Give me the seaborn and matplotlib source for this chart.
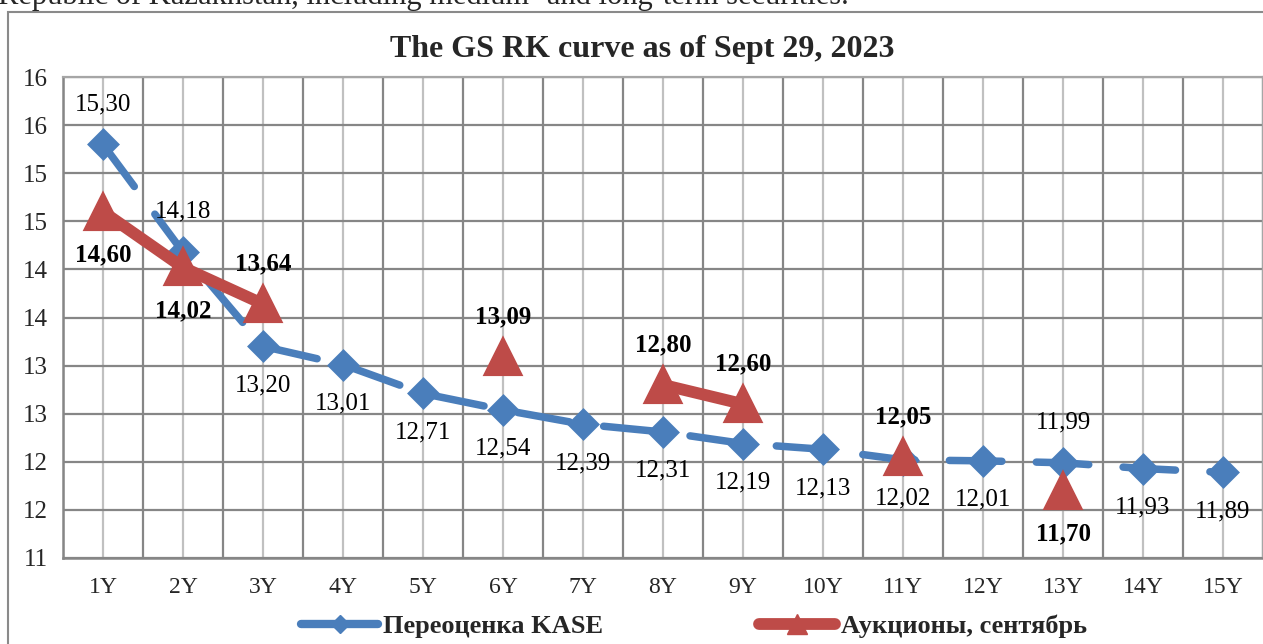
import numpy as np
import pandas as pd
import matplotlib
matplotlib.use("Agg")
import matplotlib.pyplot as plt
import seaborn as sns
from matplotlib.lines import Line2D
from matplotlib.patches import Rectangle

# ---------------- data ----------------
categories = ["1Y", "2Y", "3Y", "4Y", "5Y", "6Y", "7Y", "8Y", "9Y", "10Y",
              "11Y", "12Y", "13Y", "14Y", "15Y"]
kase_values = [15.30, 14.18, 13.20, 13.01, 12.71, 12.54, 12.39, 12.31, 12.19,
               12.13, 12.02, 12.01, 11.99, 11.93, 11.89]
auction_values = [14.60, 14.02, 13.64, np.nan, np.nan, 13.09, np.nan, 12.80,
                  12.60, np.nan, 12.05, np.nan, 11.70, np.nan, np.nan]
y_tick_values = [11.0, 11.5, 12.0, 12.5, 13.0, 13.5, 14.0, 14.5, 15.0, 15.5, 16.0]
y_tick_labels = ["11", "12", "12", "13", "13", "14", "14", "15", "15", "16", "16"]
kase_label_side = ["above", "above", "below", "below", "below", "below", "below",
                   "below", "below", "below", "below", "below", "above", "below",
                   "below"]
auction_label_side = ["below", "below", "above", None, None, "above", None,
                      "above", "above", None, "above", None, "below", None, None]
series_names = ["Переоценка KASE", "Аукционы, сентябрь"]
title = "The GS RK curve as of Sept 29, 2023"
page_text = "Republic of Kazakhstan, including medium- and long-term securities."

# ---------------- style ----------------
BLUE = "#4a7ebb"
RED = "#be4b48"
GRID_DARK = "#868686"
GRID_LIGHT = "#c0c0c0"

sns.set_theme(style="white")
plt.rcParams["font.family"] = ["Liberation Serif", "DejaVu Serif"]
plt.rcParams["lines.scale_dashes"] = False

W, H = 1263, 644
fig = plt.figure(figsize=(W / 100, H / 100), dpi=100)
ax = fig.add_axes([63 / W, (H - 558) / H, 1200 / W, (558 - 77) / H])

pos = np.arange(len(categories))
df_kase = pd.DataFrame({"pos": pos, "value": kase_values})
sns.lineplot(data=df_kase, x="pos", y="value", ax=ax, color=BLUE, linewidth=5.4,
             marker="D", markersize=14, markeredgewidth=2.5,
             markeredgecolor=BLUE, markerfacecolor=BLUE, legend=False, zorder=3)
kase_line = ax.lines[-1]
kase_line.set_linestyle((0, (37.8, 24.8)))
kase_line.set_dash_capstyle("round")

auc = np.array(auction_values, dtype=float)
mask = ~np.isnan(auc)
seg = np.cumsum(np.concatenate([[1], np.diff(mask.astype(int)) != 0]))
df_auc = pd.DataFrame({"pos": pos[mask], "value": auc[mask], "seg": seg[mask]})
sns.lineplot(data=df_auc, x="pos", y="value", units="seg", estimator=None, ax=ax,
             color=RED, linewidth=8.5, marker="^", markersize=25,
             markeredgewidth=3, markeredgecolor=RED, markerfacecolor=RED,
             legend=False, zorder=4, solid_joinstyle="round",
             solid_capstyle="round")
for ln in ax.lines[1:]:
    ln.set_markeredgecolor(RED)

# data labels
for i, (v, side) in enumerate(zip(kase_values, kase_label_side)):
    off = 29 if side == "above" else -28
    ax.annotate(f"{v:.2f}".replace(".", ","), (i, v), xytext=(0, off),
                textcoords="offset points", ha="center", va="center",
                fontsize=18, color="black", zorder=6)
for i, (v, side) in enumerate(zip(auction_values, auction_label_side)):
    if side is None or np.isnan(v):
        continue
    off = 29 if side == "above" else -31
    ax.annotate(f"{v:.2f}".replace(".", ","), (i, v), xytext=(0, off),
                textcoords="offset points", ha="center", va="center",
                fontsize=18, fontweight="bold", color="black", zorder=6)

# axes
ax.set_xlim(-0.5, len(categories) - 0.5)
ax.set_ylim(11, 16)
ax.set_xlabel("")
ax.set_ylabel("")
ax.set_xticks(pos)
ax.set_xticklabels(categories, fontsize=17)
ax.set_xticks(np.arange(-0.5, len(categories), 1.0), minor=True)
ax.set_yticks(y_tick_values)
ax.set_yticklabels(y_tick_labels, fontsize=18)
ax.tick_params(axis="both", which="both", length=0)
ax.tick_params(axis="x", pad=14)
ax.tick_params(axis="y", pad=11)
ax.grid(False)
ax.grid(True, axis="y", which="major", color=GRID_DARK, linewidth=1.6, zorder=0)
ax.grid(True, axis="x", which="major", color=GRID_LIGHT, linewidth=1.6, zorder=0)
ax.grid(True, axis="x", which="minor", color=GRID_DARK, linewidth=1.6, zorder=0)
ax.set_axisbelow(True)
for s in ["left", "bottom"]:
    ax.spines[s].set_color(GRID_DARK)
    ax.spines[s].set_linewidth(1.8)
for s in ["top", "right"]:
    ax.spines[s].set_color("#a6a6a6")
    ax.spines[s].set_linewidth(1.6)

# title and page text
fig.text(642 / W, 1 - 50 / H, title, ha="center", va="center", fontsize=23,
         fontweight="bold")
fig.text(-2 / W, 1 - 4 / H, page_text, ha="left", va="baseline", fontsize=22)

# chart-area border
fig.patches.append(Rectangle((8 / W, -0.2), 2.0, (H - 12) / H + 0.2,
                             transform=fig.transFigure, fill=False,
                             edgecolor="#8a8a8a", linewidth=1.5))

# legend
handles = [Line2D([], [], color=BLUE, linewidth=6, marker="D", markersize=9,
                  markeredgecolor=BLUE, solid_capstyle="round"),
           Line2D([], [], color=RED, linewidth=8.5, marker="^", markersize=14,
                  markeredgecolor=RED, solid_capstyle="round")]
fig.legend(handles, series_names, loc="center", bbox_to_anchor=(694 / W, 1 - 626 / H),
           ncol=2, frameon=False, prop={"weight": "bold", "size": 19},
           handlelength=2.9, columnspacing=5.9, handletextpad=0.2)

fig.savefig("out.png", dpi=100)
